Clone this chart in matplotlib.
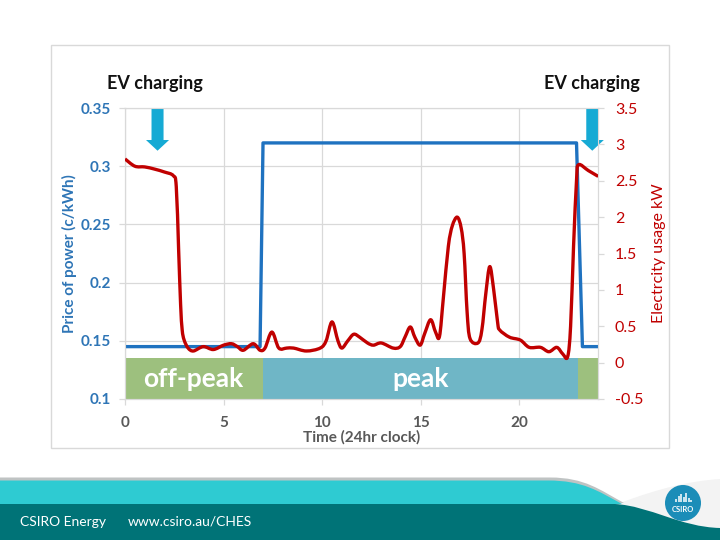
import numpy as np
import matplotlib
matplotlib.use("Agg")
import matplotlib.pyplot as plt
from matplotlib.patches import Rectangle, FancyArrow, PathPatch, Circle
from matplotlib.path import Path

plt.rcParams['font.family'] = ['Lato', 'DejaVu Sans']

# price of power (c/kWh), step profile
price_hours = [0, 6.85, 7.0, 22.9, 23.2, 24]
price_values = [0.145, 0.145, 0.32, 0.32, 0.145, 0.145]

# electricity usage (kW)
usage_hours = [0.0, 0.5, 1.0, 1.5, 2.0, 2.45, 2.6, 2.72, 2.82, 2.9, 3.0, 3.2, 3.47,
               3.97, 4.48, 5.0, 5.4, 5.7, 6.0, 6.5, 6.85, 7.1, 7.45, 7.8, 8.2,
               8.55, 9.2, 9.9, 10.2, 10.5, 10.8, 11.0, 11.3, 11.6, 11.9, 12.3,
               12.6, 13.0, 13.6, 13.96, 14.2, 14.47, 14.7, 14.97, 15.2, 15.5,
               15.75, 15.95, 16.15, 16.4, 16.6, 16.85, 17.05, 17.2, 17.35, 17.5,
               17.9, 18.1, 18.3, 18.5, 18.7, 18.9, 19.0, 19.5, 20.05, 20.5,
               21.07, 21.5, 21.9, 22.2, 22.45, 22.6, 22.75, 22.9, 23.0, 23.5, 24.0]
usage_values = [2.80, 2.70, 2.69, 2.66, 2.62, 2.57, 2.42, 1.55, 0.8, 0.45, 0.31, 0.2, 0.16,
                0.22, 0.18, 0.24, 0.26, 0.22, 0.17, 0.26, 0.17, 0.2, 0.42, 0.2, 0.2,
                0.2, 0.16, 0.2, 0.3, 0.56, 0.3, 0.2, 0.3, 0.39, 0.35, 0.27,
                0.24, 0.27, 0.2, 0.22, 0.35, 0.49, 0.35, 0.24, 0.4, 0.59,
                0.42, 0.36, 0.9, 1.6, 1.88, 2.0, 1.85, 1.5, 0.7, 0.33,
                0.27, 0.45, 0.95, 1.32, 1.0, 0.55, 0.45, 0.35, 0.31, 0.21,
                0.21, 0.15, 0.21, 0.12, 0.08, 0.5, 1.6, 2.5, 2.72, 2.64, 2.56]

# tariff bands
band_starts = [0, 7, 23]
band_ends = [7, 23, 24]
band_colors = ['#9dc07e', '#6fb6c6', '#9dc07e']
band_labels = ['off-peak', 'peak', '']
band_label_x = [3.45, 15.0]

# EV charging markers
ev_hours = [1.65, 23.7]

x_ticks = [0, 5, 10, 15, 20]
left_ticks = [0.1, 0.15, 0.2, 0.25, 0.3, 0.35]
left_labels = ['0.1', '0.15', '0.2', '0.25', '0.3', '0.35']
right_ticks = [-0.5, 0, 0.5, 1, 1.5, 2, 2.5, 3, 3.5]
right_labels = ['-0.5', '0', '0.5', '1', '1.5', '2', '2.5', '3', '3.5']

W, H = 720, 540
fig = plt.figure(figsize=(7.2, 5.4), dpi=100)

# slide background / footer (pixel coords)
bg = fig.add_axes([0, 0, 1, 1], zorder=-5)
bg.set_xlim(0, W)
bg.set_ylim(H, 0)
bg.axis('off')

def shape(verts, codes, **kw):
    bg.add_patch(PathPatch(Path(verts, codes), **kw))

M, L, C = Path.MOVETO, Path.LINETO, Path.CURVE4
shape([(620, 503), (660, 488), (690, 481), (720, 479), (720, 540), (620, 540), (620, 503)],
      [M, C, C, C, L, L, L], facecolor='#f3f3f3', edgecolor='none')
shape([(0, 477.5), (550, 477.5), (585, 477.5), (600, 490), (624, 503), (0, 504), (0, 477.5)],
      [M, L, C, C, C, L, L], facecolor='#bfc3c3', edgecolor='none')
shape([(0, 480.5), (548, 480.5), (583, 480.5), (598, 491), (622, 504), (0, 504), (0, 480.5)],
      [M, L, C, C, C, L, L], facecolor='#2ecbd2', edgecolor='none')
shape([(0, 504), (615, 504), (650, 506), (680, 527), (720, 528), (720, 540), (0, 540), (0, 504)],
      [M, L, C, C, C, L, L, L], facecolor='#007377', edgecolor='none')

bg.add_patch(Circle((683, 503), 18, facecolor='#1b8db8', edgecolor='none'))
for dx, top in zip([-7, -4.5, -2, 0.5, 3, 5.5, 8], [499, 496, 494, 497, 493, 498, 500]):
    bg.plot([683 + dx, 683 + dx], [top, 502], color='white', lw=1.1, solid_capstyle='butt')
bg.text(683, 509, 'CSIRO', color='white', fontsize=5.5, fontweight='bold', ha='center', va='center')

bg.text(20, 522, 'CSIRO Energy', color='white', fontsize=10, ha='left', va='center')
bg.text(128, 522, 'www.csiro.au/CHES', color='white', fontsize=10, ha='left', va='center')

# chart frame
bg.add_patch(Rectangle((50.5, 45), 618.5, 403, facecolor='white', edgecolor='#d9d9d9', lw=1))

bg.text(154.5, 84, 'EV charging', fontsize=13, fontweight='bold', ha='center', va='center', color='#111111')
bg.text(592, 84, 'EV charging', fontsize=13, fontweight='bold', ha='center', va='center', color='#111111')

# main axes
ax = fig.add_axes([125 / W, 1 - 399 / H, (598.2 - 125) / W, (399 - 108) / H])
ax.set_facecolor('none')
ax.set_xlim(0, 24)
ax.set_ylim(0.1, 0.35)
ax.set_xticks(x_ticks)
ax.set_yticks(left_ticks)
ax.set_yticklabels(left_labels)
ax.grid(True, color='#d9d9d9', lw=0.9)
ax.set_axisbelow(True)
for s in ax.spines.values():
    s.set_color('#d9d9d9')
ax.tick_params(axis='both', colors='#d9d9d9', length=4, width=0.9)
for lab in ax.get_xticklabels():
    lab.set_color('#595959')
    lab.set_fontweight('bold')
    lab.set_fontsize(11)
for lab in ax.get_yticklabels():
    lab.set_color('#2e75b6')
    lab.set_fontweight('bold')
    lab.set_fontsize(11)
ax.tick_params(axis='x', pad=8)
ax.tick_params(axis='y', pad=6)

for x0, x1, c in zip(band_starts, band_ends, band_colors):
    ax.fill_between([x0, x1], 0.1, 0.135, color=c, lw=0, zorder=1.5)
for lx, lab in zip(band_label_x, band_labels):
    ax.text(lx, 0.1175, lab, color='white', fontsize=19, fontweight='bold',
            ha='center', va='center', zorder=2)

ax.plot(price_hours, price_values, color='#1f72c0', lw=2.4, zorder=3, solid_joinstyle='round')

for hx in ev_hours:
    ax.add_patch(FancyArrow(hx, 0.35, 0, -0.0367, width=0.61, head_width=1.17,
                            head_length=0.0092, length_includes_head=True,
                            color='#16aad4', lw=0, clip_on=False, zorder=4))

ax.set_xlabel('Time (24hr clock)', fontsize=11, fontweight='bold', color='#595959', labelpad=0)
ax.set_ylabel('Price of power (c/kWh)', fontsize=11, fontweight='bold', color='#2e75b6', labelpad=3)

ax2 = ax.twinx()
ax2.set_ylim(-0.5, 3.5)
ax2.set_yticks(right_ticks)
ax2.set_yticklabels(right_labels)
for s in ax2.spines.values():
    s.set_color('#d9d9d9')
ax2.tick_params(axis='y', colors='#d9d9d9', length=4, width=0.9, pad=8)
for lab in ax2.get_yticklabels():
    lab.set_color('#c00000')
    lab.set_fontsize(11.5)

# smoothed line like the spreadsheet's: cubic Bezier segments through the read points
px = np.array(usage_hours)
py = np.array(usage_values)
n = len(px)
verts = [(px[0], py[0])]
codes = [Path.MOVETO]
for i in range(n - 1):
    i0, i3 = max(i - 1, 0), min(i + 2, n - 1)
    c1 = (px[i] + (px[i + 1] - px[i0]) / 6, py[i] + (py[i + 1] - py[i0]) / 6)
    c2 = (px[i + 1] - (px[i3] - px[i]) / 6, py[i + 1] - (py[i3] - py[i]) / 6)
    verts += [c1, c2, (px[i + 1], py[i + 1])]
    codes += [Path.CURVE4] * 3
ax2.add_patch(PathPatch(Path(verts, codes), fill=False, edgecolor='#c00000', lw=2.4,
                        joinstyle='round', zorder=3))
ax2.set_ylabel('Electrcity usage kW', fontsize=11.5, color='#c00000', labelpad=6)

fig.savefig('out.png', dpi=100)
